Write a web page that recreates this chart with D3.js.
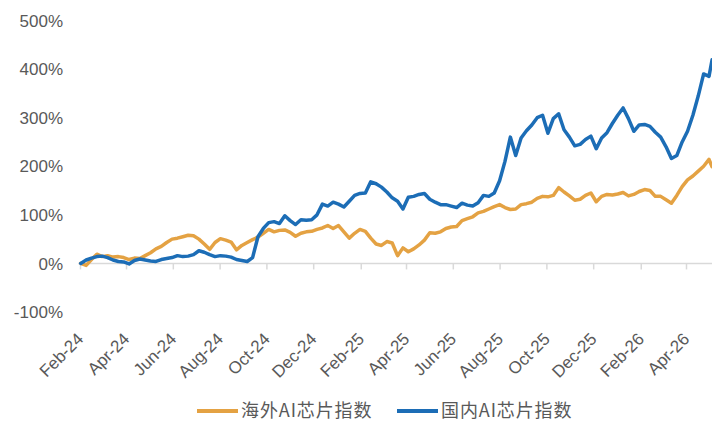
<!DOCTYPE html>
<html>
<head>
<meta charset="utf-8">
<script src="https://cdn.jsdelivr.net/npm/d3@7"></script>
<style>
   body { margin: 0; background: #fff; }
   svg { display: block; }
</style>
</head>
<body>
<svg id="chart" width="712" height="425"></svg>
<script>
// weekly closes, cumulative return in %
const dates = [
   "2024-02-02","2024-02-09","2024-02-16","2024-02-23","2024-03-01","2024-03-08","2024-03-15","2024-03-22","2024-03-29","2024-04-05",
   "2024-04-12","2024-04-19","2024-04-26","2024-05-03","2024-05-10","2024-05-17","2024-05-24","2024-05-31","2024-06-07","2024-06-14",
   "2024-06-21","2024-06-28","2024-07-05","2024-07-12","2024-07-19","2024-07-26","2024-08-02","2024-08-09","2024-08-16","2024-08-23",
   "2024-08-30","2024-09-06","2024-09-13","2024-09-20","2024-09-27","2024-10-04","2024-10-11","2024-10-18","2024-10-25","2024-11-01",
   "2024-11-08","2024-11-15","2024-11-22","2024-11-29","2024-12-06","2024-12-13","2024-12-20","2024-12-27","2025-01-03","2025-01-10",
   "2025-01-17","2025-01-24","2025-01-31","2025-02-07","2025-02-14","2025-02-21","2025-02-28","2025-03-07","2025-03-14","2025-03-21",
   "2025-03-28","2025-04-04","2025-04-11","2025-04-18","2025-04-25","2025-05-02","2025-05-09","2025-05-16","2025-05-23","2025-05-30",
   "2025-06-06","2025-06-13","2025-06-20","2025-06-27","2025-07-04","2025-07-11","2025-07-18","2025-07-25","2025-08-01","2025-08-08",
   "2025-08-15","2025-08-22","2025-08-29","2025-09-05","2025-09-12","2025-09-19","2025-09-26","2025-10-03","2025-10-10","2025-10-17",
   "2025-10-24","2025-10-31","2025-11-07","2025-11-14","2025-11-21","2025-11-28","2025-12-05","2025-12-12","2025-12-19","2025-12-26",
   "2026-01-02","2026-01-09","2026-01-16","2026-01-23","2026-01-30","2026-02-06","2026-02-13","2026-02-20","2026-02-27","2026-03-06",
   "2026-03-13","2026-03-20","2026-03-27","2026-04-03","2026-04-10","2026-04-17","2026-04-24","2026-05-01","2026-05-05"
];

const overseas = [
   0, -4, 8, 19, 14, 16, 13, 14, 12, 8,
   11, 10, 16, 22, 30, 35, 43, 50, 52, 55,
   58, 57, 50, 40, 29, 43, 51, 48, 44, 28,
   37, 43, 49, 54, 62, 70, 65, 68, 69, 64,
   56, 62, 65, 66, 70, 73, 78, 72, 78, 65,
   52, 62, 70, 66, 52, 40, 37, 45, 42, 16,
   32, 24, 30, 38, 48, 63, 62, 65, 72, 75,
   76, 88, 92, 96, 104, 107, 112, 117, 121, 115,
   111, 112, 121, 123, 126, 134, 138, 137, 140, 156,
   147, 139, 130, 132, 140, 145, 127, 138, 142, 141,
   143, 146, 139, 142, 148, 152, 150, 138, 138, 131,
   124, 140, 158, 172, 180, 190, 200, 214, 199
];

const domestic = [
   0, 7, 11, 14, 15, 12, 7, 4, 3, -1,
   6, 9, 7, 5, 4, 8, 10, 12, 16, 14,
   15, 18, 26, 23, 18, 14, 16, 15, 13, 8,
   6, 4, 12, 55, 72, 84, 86, 82, 98, 88,
   80, 90, 89, 90, 100, 122, 118, 126, 122, 116,
   128, 140, 144, 145, 168, 164, 157, 147, 135, 128,
   112, 136, 138, 142, 144, 132, 126, 121, 121, 118,
   115, 124, 120, 118, 125, 140, 138, 145, 170, 210,
   260, 222, 258, 273, 285, 300, 305, 268, 298, 308,
   275, 260, 242, 245, 255, 262, 236, 258, 269, 288,
   305, 320, 298, 272, 285, 286, 282, 270, 260, 240,
   216, 222, 250, 272, 305, 345, 390, 385, 419
];

const yTicks = [-100, 0, 100, 200, 300, 400, 500];
const xTicks = ["2024-02-01","2024-04-01","2024-06-01","2024-08-01","2024-10-01","2024-12-01",
                "2025-02-01","2025-04-01","2025-06-01","2025-08-01","2025-10-01","2025-12-01",
                "2026-02-01","2026-04-01"];
const seriesNames = ["海外AI芯片指数", "国内AI芯片指数"];
const seriesColors = ["#E4A243", "#1C6DB6"];

const parse = d3.timeParse("%Y-%m-%d");
const svg = d3.select("#chart");
const labelColor = "#595959";
const axisColor = "#D9D9D9";

const x = d3.scaleTime()
   .domain([parse(xTicks[0]), parse(xTicks[xTicks.length - 1])])
   .range([80, 686]);
const y = d3.scaleLinear()
   .domain([-100, 500])
   .range([312, 20.5]);

// y labels (no gridlines in the original)
svg.append("g")
   .selectAll("text")
   .data(yTicks)
   .join("text")
      .attr("x", 63)
      .attr("y", d => y(d))
      .attr("dy", "0.36em")
      .attr("text-anchor", "end")
      .style("font-family", "'Liberation Sans', Arial, sans-serif")
      .style("font-size", "17px")
      .style("fill", labelColor)
      .text(d => d + "%");

// x axis sits on 0%, labels hang below the plot
const xAxis = svg.append("g")
   .attr("transform", `translate(0,${y(0)})`)
   .call(d3.axisBottom(x)
      .tickValues(xTicks.map(parse))
      .tickSize(6)
      .tickSizeOuter(0)
      .tickFormat(d3.timeFormat("%b-%y")));
xAxis.select(".domain").remove();
xAxis.append("line")
   .attr("x1", x(parse(xTicks[0])) - 2)
   .attr("x2", x(parse(dates[dates.length - 1])))
   .attr("stroke", axisColor)
   .attr("stroke-width", 1.5);
xAxis.selectAll(".tick line").attr("stroke", axisColor).attr("stroke-width", 1.5);
xAxis.selectAll(".tick text")
   .attr("y", 0)
   .attr("dy", 0)
   .attr("transform", `translate(4,${y(-100) - y(0) + 28}) rotate(-45)`)
   .attr("text-anchor", "end")
   .style("font-family", "'Liberation Sans', Arial, sans-serif")
   .style("font-size", "17px")
   .style("fill", labelColor);

// lines
const line = d3.line()
   .x(d => x(d.date))
   .y(d => y(d.v));

[overseas, domestic].forEach(function(values, i) {
   const pts = values.map((v, j) => ({date: parse(dates[j]), v: v}));
   svg.append("path")
      .datum(pts)
      .attr("fill", "none")
      .attr("stroke", seriesColors[i])
      .attr("stroke-width", 3.5)
      .attr("stroke-linejoin", "round")
      .attr("stroke-linecap", "round")
      .attr("d", line);
});

// legend
const legendX = [197, 397];
seriesNames.forEach(function(name, i) {
   const g = svg.append("g").attr("transform", `translate(${legendX[i]},411)`);
   g.append("line")
      .attr("x1", 0).attr("x2", 41)
      .attr("stroke", seriesColors[i])
      .attr("stroke-width", 4);
   g.append("text")
      .attr("x", 44)
      .attr("dy", "0.36em")
      .style("font-family", "'Noto Sans CJK SC', sans-serif")
      .style("font-size", "18px")
      .style("letter-spacing", "0.9px")
      .style("fill", labelColor)
      .text(name);
});
</script>
</body>
</html>
